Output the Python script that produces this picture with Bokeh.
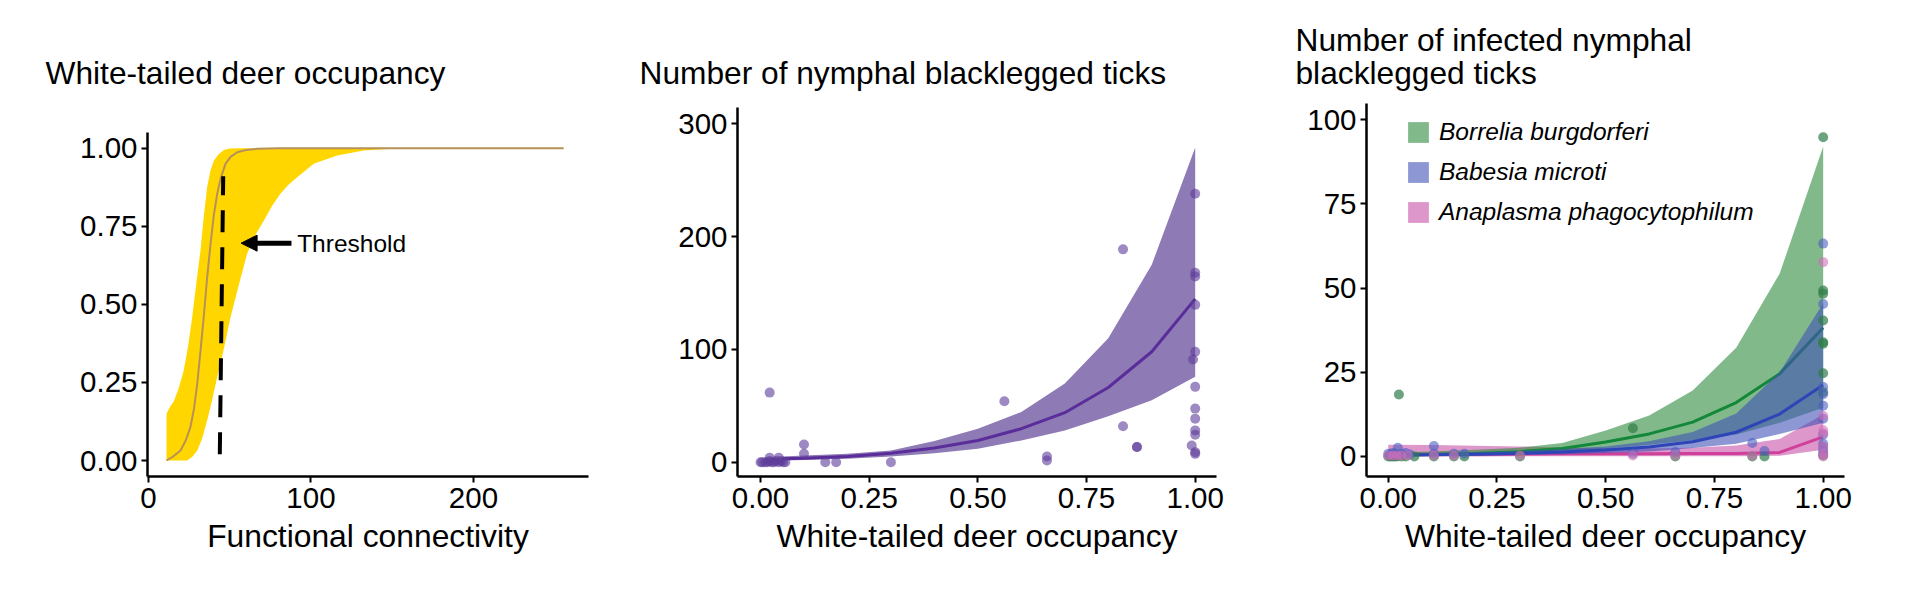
from bokeh.plotting import figure
from bokeh.models import (Range1d, FixedTicker, Arrow, NormalHead, Label,
                          Legend, LegendItem, NumeralTickFormatter)
from bokeh.layouts import row, column
from bokeh.embed import file_html
from bokeh.resources import INLINE

FONT = "Liberation Sans"

# ---------------- Panel 1: deer occupancy vs functional connectivity -------------
occ_mean_x = [11.1, 15.0, 19.7, 23.0, 25.8, 28.0, 30.0, 32.0, 34.0, 36.0, 38.2, 40.2, 42.3, 44.5,
              47.4, 50.5, 54.6, 60.0, 66.9, 80.0, 255.5]
occ_mean_y = [0.0, 0.012, 0.032, 0.065, 0.107, 0.165, 0.245, 0.35, 0.459, 0.58, 0.694, 0.785,
              0.854, 0.905, 0.95, 0.972, 0.987, 0.994, 0.998, 1.0, 1.0]
occ_upper_x = [11.1, 13.0, 15.6, 18.5, 21.7, 24.5, 26.9, 29.5, 32.0, 34.0, 36.1, 38.0, 40.2,
               43.0, 46.4, 50.0, 54.6, 255.5]
occ_upper_y = [0.15, 0.17, 0.19, 0.23, 0.288, 0.37, 0.459, 0.57, 0.672, 0.78, 0.875, 0.925,
               0.96, 0.98, 0.994, 0.999, 1.0, 1.0]
occ_lower_x = [11.1, 23.8, 27.0, 30.0, 33.0, 36.1, 39.0, 42.3, 46.5, 50.5, 55.5, 60.7, 65.5,
               71.0, 76.0, 81.2, 86.0, 91.5, 101.7, 116.1, 132.5, 153.0, 255.5]
occ_lower_y = [0.0, 0.0, 0.012, 0.032, 0.07, 0.128, 0.19, 0.267, 0.36, 0.459, 0.56, 0.662,
               0.72, 0.768, 0.815, 0.854, 0.882, 0.907, 0.95, 0.977, 0.993, 0.999, 1.0]
threshold_x = [43.9, 46.0]
threshold_y = [0.02, 0.91]
arrow_from_x, arrow_to_x, arrow_y = 88.0, 57.0, 0.696
threshold_label_x = 91.5
p1_xticks = [0, 100, 200]
p1_yticks = [0.0, 0.25, 0.5, 0.75, 1.0]

# ---------------- Panel 2: nymphal ticks vs deer occupancy -------------------------
nymph_grid = [0.05, 0.1, 0.2, 0.3, 0.4, 0.5, 0.6, 0.7, 0.8, 0.9, 1.0]
nymph_mean = [3.0, 3.6, 5.0, 8.0, 12.5, 19.3, 29.7, 43.9, 66.2, 97.9, 144.8]
nymph_upper = [5.0, 6.0, 7.4, 10.4, 18.7, 29.7, 44.5, 69.7, 109.8, 175.0, 279.0]
nymph_lower = [1.5, 2.0, 3.0, 5.0, 8.0, 11.9, 19.3, 28.2, 40.7, 54.9, 75.7]
nymph_x = [0.0, 0.004, 0.011, 0.016, 0.021, 0.026, 0.031, 0.036, 0.042, 0.047, 0.052, 0.057,
           0.021, 0.042, 0.021, 0.10, 0.10, 0.149, 0.174, 0.30, 0.561, 0.659, 0.659,
           0.834, 0.834, 0.866, 0.866,
           1.0, 1.0, 1.0, 1.0, 1.0, 0.995, 1.0, 1.0, 1.0, 1.0, 1.0, 0.992, 1.0, 1.0]
nymph_y = [0, 0, 0, 0, 1, 0, 0, 1, 0, 1, 0, 0,
           4, 4, 61.7, 15.7, 7.4, 0, 0, 0, 54.0, 5.0, 1.5,
           188.7, 31.8, 13.4, 13.4,
           238, 168, 164.7, 139.5, 97.9, 91.1, 66.8, 47.5, 38.6, 28.2, 24.3, 14.8, 8.9, 7.4]
p2_yticks = [0, 100, 200, 300]
occ_ticks = [0.0, 0.25, 0.5, 0.75, 1.0]

# ---------------- Panel 3: infected nymphs --------------------------------------------
inf_grid = [0.0, 0.1, 0.2, 0.3, 0.4, 0.5, 0.6, 0.7, 0.8, 0.9, 1.0]
bb_mean = [0.4, 0.6, 0.9, 1.4, 2.4, 4.3, 6.7, 10.2, 16.0, 24.6, 38.2]
bb_upper = [1.2, 1.5, 2.0, 2.6, 4.0, 7.7, 12.2, 19.6, 32.3, 54.3, 92.0]
bb_lower = [0.1, 0.2, 0.4, 0.7, 1.3, 2.3, 3.5, 4.8, 6.5, 10.0, 14.5]
bm_mean = [0.4, 0.5, 0.7, 0.9, 1.3, 1.9, 2.8, 4.4, 7.2, 12.6, 21.2]
bm_upper = [0.9, 1.0, 1.2, 1.6, 2.2, 3.0, 4.5, 7.3, 12.8, 25.0, 45.5]
bm_lower = [0.1, 0.2, 0.3, 0.5, 0.7, 1.0, 1.5, 2.5, 3.8, 6.7, 10.0]
ap_mean = [0.7, 0.7, 0.7, 0.7, 0.8, 0.8, 0.8, 0.9, 0.9, 1.2, 5.8]
ap_upper = [3.5, 3.4, 3.2, 3.0, 2.7, 2.5, 2.4, 2.6, 3.3, 5.2, 12.5]
ap_lower = [0.0, 0.0, 0.0, 0.1, 0.1, 0.1, 0.1, 0.1, 0.1, 0.2, 2.0]

bb_x = [0.0, 0.005, 0.01, 0.015, 0.02, 0.03, 0.04, 0.06, 0.0245, 0.105, 0.151, 0.175, 0.303,
        0.5625, 0.66, 0.837, 0.865, 1.0, 1.0, 1.0, 1.0, 1.0, 1.0, 1.0, 1.0, 1.0]
bb_y = [0, 0, 0, 0, 0, 0, 0, 0, 18.4, 0, 0, 0, 0,
        8.4, 0, 0, 0, 94.8, 49.3, 48.3, 40.4, 33.9, 33.5, 24.7, 19.1, 0.3]
bm_x = [0.0, 0.005, 0.01, 0.015, 0.02, 0.022, 0.03, 0.04, 0.05, 0.105, 0.105, 0.151, 0.175,
        0.5625, 0.66, 0.837, 0.865, 1.0, 1.0, 1.0, 1.0, 1.0, 1.0, 1.0, 1.0, 1.0, 1.0, 1.0]
bm_y = [0.8, 0.6, 1.0, 0.8, 0.5, 2.6, 0.8, 1.0, 0.6, 3.1, 0.8, 0.8, 0.8,
        0.8, 1.3, 4.0, 1.6, 63.2, 45.3, 20.6, 18.5, 15.1, 11.2, 6.5, 3.8, 2.8, 1.8, 0.8]
ap_x = [0.0, 0.01, 0.02, 0.03, 0.045, 0.105, 0.151, 0.303, 0.5625, 0.66, 0.837,
        1.0, 1.0, 1.0, 1.0, 1.0, 1.0, 1.0]
ap_y = [0.3, 0.3, 0.3, 0.3, 0.3, 0.3, 0.3, 0.3, 0.3, 0.3, 0.3,
        57.7, 12.0, 7.8, 6.8, 3.0, 0.8, 0.0]
species = ["Borrelia burgdorferi", "Babesia microti", "Anaplasma phagocytophilum"]
p3_yticks = [0, 25, 50, 75, 100]

# panel titles (text, left px, baseline px) drawn in a header strip of pixel-like units
STRIP_H = 103
panel_titles = [("White-tailed deer occupancy", 45, 72),
                ("Number of nymphal blacklegged ticks", 639, 72),
                ("Number of infected nymphal", 1295, 39),
                ("blacklegged ticks", 1295, 72)]


def style(p, xlabel, tick_fmt_x=None, tick_fmt_y=None):
    p.xgrid.visible = False
    p.ygrid.visible = False
    p.outline_line_color = None
    p.background_fill_color = "white"
    p.border_fill_color = "white"
    for ax in (p.xaxis[0], p.yaxis[0]):
        ax.axis_line_width = 2.5
        ax.axis_line_color = "black"
        ax.major_tick_line_width = 2
        ax.major_tick_line_color = "black"
        ax.major_tick_out = 6
        ax.major_tick_in = 0
        ax.minor_tick_out = 0
        ax.minor_tick_in = 0
        ax.major_label_text_font = FONT
        ax.major_label_text_font_size = "29.5px"
        ax.major_label_text_color = "black"
        ax.axis_label_text_font = FONT
        ax.axis_label_text_font_size = "31.8px"
        ax.axis_label_text_font_style = "normal"
        ax.axis_label_text_color = "black"
    p.yaxis[0].major_label_standoff = 4
    p.xaxis[0].major_label_standoff = 5
    p.xaxis[0].axis_label = xlabel
    p.xaxis[0].axis_label_standoff = 7
    if tick_fmt_x:
        p.xaxis[0].formatter = NumeralTickFormatter(format=tick_fmt_x)
    if tick_fmt_y:
        p.yaxis[0].formatter = NumeralTickFormatter(format=tick_fmt_y)


# ---- header strip with the panel titles
strip = figure(width=1920, height=STRIP_H, x_range=Range1d(0, 1920), y_range=Range1d(STRIP_H, 0),
               output_backend="svg", toolbar_location=None, title=None,
               x_axis_location=None, y_axis_location=None, min_border=0)
strip.outline_line_color = None
strip.xgrid.visible = False
strip.ygrid.visible = False
for txt, tx, ty in panel_titles:
    strip.add_layout(Label(x=tx, y=ty, text=txt, text_font=FONT, text_font_size="31.7px",
                           text_baseline="alphabetic", text_align="left", text_color="black"))

common = dict(height=589 - STRIP_H, output_backend="svg", toolbar_location=None, title=None,
              min_border_top=0, min_border_bottom=113)

# ---- Panel 1
p1 = figure(width=640, x_range=Range1d(-0.6, 270.8), y_range=Range1d(-0.0512, 1.1431), **common)
p1.min_border_left, p1.min_border_right = 147, 52
p1.patch(x=occ_upper_x + occ_lower_x[::-1], y=occ_upper_y + occ_lower_y[::-1],
         fill_color="#FFD600", line_color=None)
p1.line(x=occ_mean_x, y=occ_mean_y, line_color="#B8905A", line_width=2)
p1.line(x=threshold_x, y=threshold_y, line_color="black", line_width=4, line_dash="22 15")
p1.add_layout(Arrow(end=NormalHead(size=16, fill_color="black", line_color="black"),
                    x_start=arrow_from_x, y_start=arrow_y, x_end=arrow_to_x, y_end=arrow_y,
                    line_width=5, line_color="black"))
p1.add_layout(Label(x=threshold_label_x, y=arrow_y, text="Threshold", text_font=FONT,
                    text_font_size="24.5px", text_baseline="middle", text_align="left",
                    text_color="black"))
style(p1, "Functional connectivity", tick_fmt_y="0.00")
p1.xaxis[0].ticker = FixedTicker(ticks=p1_xticks)
p1.yaxis[0].ticker = FixedTicker(ticks=p1_yticks)
p1.yaxis[0].bounds = (-0.0512, 1.05)

# ---- Panel 2
p2 = figure(width=640, x_range=Range1d(-0.053, 1.049), y_range=Range1d(-12.68, 318.0), **common)
p2.min_border_left, p2.min_border_right = 97, 64
p2.patch(x=nymph_grid + nymph_grid[::-1], y=nymph_upper + nymph_lower[::-1],
         fill_color="#8E7BB5", line_color=None)
p2.line(x=nymph_grid, y=nymph_mean, line_color="#5A2D9A", line_width=3)
p2.scatter(x=nymph_x, y=nymph_y, size=10, fill_color="#5E3C99", fill_alpha=0.6, line_color=None)
style(p2, "White-tailed deer occupancy", tick_fmt_x="0.00")
p2.xaxis[0].ticker = FixedTicker(ticks=occ_ticks)
p2.yaxis[0].ticker = FixedTicker(ticks=p2_yticks)
p2.yaxis[0].bounds = (-12.68, 314.5)

# ---- Panel 3
p3 = figure(width=640, x_range=Range1d(-0.05, 1.049), y_range=Range1d(-5.94, 104.8), **common)
p3.min_border_left, p3.min_border_right = 86, 76
ap_band = p3.patch(x=inf_grid + inf_grid[::-1], y=ap_upper + ap_lower[::-1],
                   fill_color="#C2429E", fill_alpha=0.55, line_color=None)
p3.line(x=inf_grid, y=ap_mean, line_color="#D0409A", line_width=3)
bb_band = p3.patch(x=inf_grid + inf_grid[::-1], y=bb_upper + bb_lower[::-1],
                   fill_color="#2E8B3E", fill_alpha=0.6, line_color=None)
p3.line(x=inf_grid, y=bb_mean, line_color="#13873A", line_width=3)
bm_band = p3.patch(x=inf_grid + inf_grid[::-1], y=bm_upper + bm_lower[::-1],
                   fill_color="#3F51B5", fill_alpha=0.6, line_color=None)
p3.line(x=inf_grid, y=bm_mean, line_color="#2E45B8", line_width=3)
p3.scatter(x=bb_x, y=bb_y, size=10, fill_color="#2F7D48", fill_alpha=0.7, line_color=None)
p3.scatter(x=bm_x, y=bm_y, size=10, fill_color="#4A5FC0", fill_alpha=0.6, line_color=None)
p3.scatter(x=ap_x, y=ap_y, size=10, fill_color="#D070B8", fill_alpha=0.6, line_color=None)
style(p3, "White-tailed deer occupancy", tick_fmt_x="0.00")
p3.xaxis[0].ticker = FixedTicker(ticks=occ_ticks)
p3.yaxis[0].ticker = FixedTicker(ticks=p3_yticks)
legend = Legend(items=[LegendItem(label=species[0], renderers=[bb_band]),
                       LegendItem(label=species[1], renderers=[bm_band]),
                       LegendItem(label=species[2], renderers=[ap_band])],
                location=(39, 250), orientation="vertical",
                label_text_font=FONT, label_text_font_style="italic",
                label_text_font_size="24.5px", label_text_color="black",
                glyph_width=26, glyph_height=26, label_height=26, label_standoff=8,
                spacing=12, padding=0, margin=0, border_line_color=None,
                background_fill_alpha=0)
p3.add_layout(legend, "center")

layout = column(strip, row(p1, p2, p3, spacing=0), spacing=0)
open("out.html", "w").write(file_html(layout, INLINE))
